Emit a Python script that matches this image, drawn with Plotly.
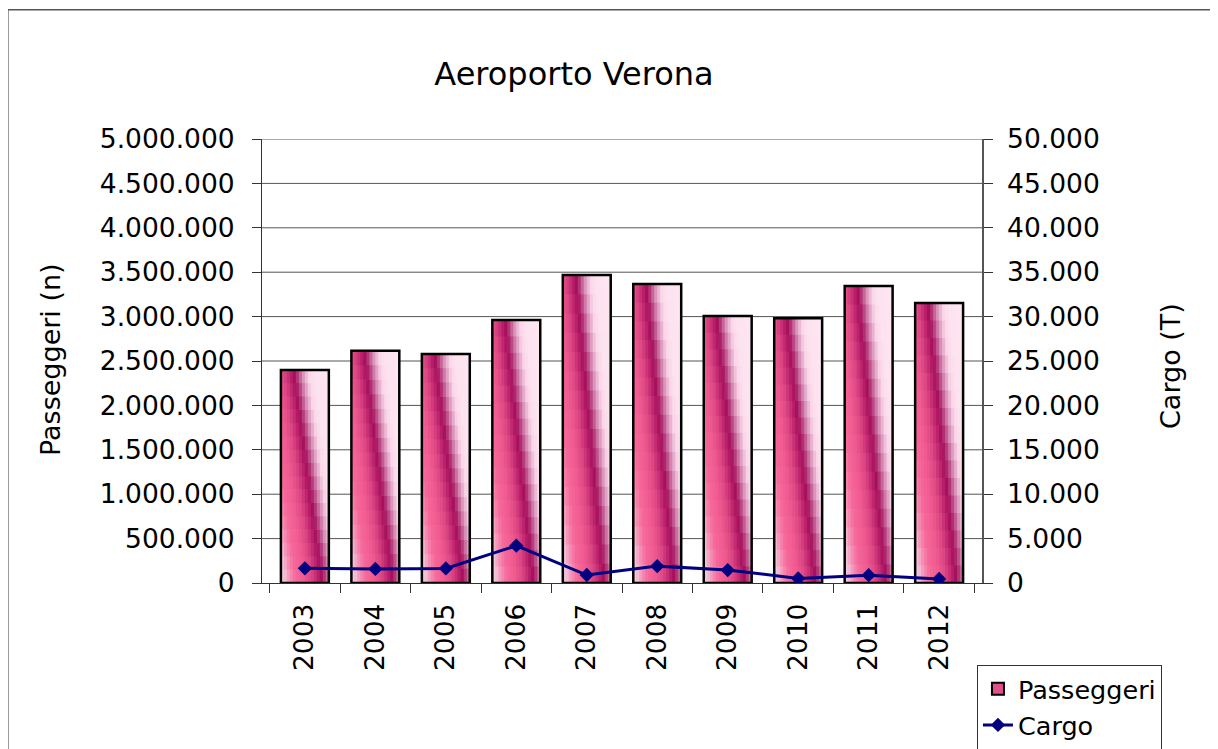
import plotly.graph_objects as go

# ---- data ----
years = ["2003", "2004", "2005", "2006", "2007", "2008", "2009", "2010", "2011", "2012"]
passeggeri = [2400000, 2615000, 2580000, 2962000, 3468000, 3367000, 3007000, 2981000, 3345000, 3153000]
cargo = [1650, 1580, 1640, 4200, 900, 1900, 1460, 520, 880, 450]

left_ticks = list(range(0, 5000001, 500000))
FONT = "DejaVu Sans, Verdana, sans-serif"
BAR_WIDTH = 0.68
N_STRIPS = 16   # horizontal subdivisions of the gradient fill
N_BANDS = 16    # vertical subdivisions of the gradient fill
SLANT = 0.6

# colour profile of the diagonal gradient (position, colour)
grad_stops = [(-0.60, "#eccfe2"), (-0.50, "#f2c0d8"), (-0.40, "#f590b4"), (-0.28, "#f6689a"),
              (-0.10, "#f05a90"), (0.05, "#dc4682"), (0.17, "#c02670"), (0.26, "#a60f5c"),
              (0.33, "#b43878"), (0.44, "#d890b8"), (0.56, "#fad6e8"), (0.68, "#fde2ef"),
              (1.00, "#fee6f2")]


def hex2rgb(h):
    h = h.lstrip("#")
    return tuple(int(h[i:i + 2], 16) for i in (0, 2, 4))


def grad_color(s):
    if s <= grad_stops[0][0]:
        return grad_stops[0][1]
    for (s0, c0), (s1, c1) in zip(grad_stops, grad_stops[1:]):
        if s <= s1:
            t = (s - s0) / (s1 - s0)
            a, b = hex2rgb(c0), hex2rgb(c1)
            r = [round(a[i] + (b[i] - a[i]) * t) for i in range(3)]
            return f"rgb({r[0]},{r[1]},{r[2]})"
    return grad_stops[-1][1]


fig = go.Figure()

# gradient fill of the passenger bars, drawn as slices of each bar
strip_w = BAR_WIDTH / N_STRIPS
for j in range(N_BANDS):
    band_base = [p * j / N_BANDS for p in passeggeri]
    band_h = [p / N_BANDS * (1.04 if j < N_BANDS - 1 else 1.0) for p in passeggeri]
    v_from_top = 1 - (j + 0.5) / N_BANDS
    for k in range(N_STRIPS):
        u = (k + 0.5) / N_STRIPS
        col = grad_color(u - SLANT * v_from_top)
        fig.add_trace(go.Bar(
            x=years, y=band_h, base=band_base,
            offset=-BAR_WIDTH / 2 + k * strip_w,
            width=strip_w * (1.3 if k < N_STRIPS - 1 else 1.0),
            marker=dict(color=col, line=dict(width=0)),
            showlegend=False, hoverinfo="skip",
        ))

# bar outlines
fig.add_trace(go.Bar(
    x=years, y=passeggeri, name="Passeggeri", showlegend=False,
    width=BAR_WIDTH,
    marker=dict(color="rgba(0,0,0,0)", line=dict(color="black", width=2.5)),
))
# legend entry for the bars
fig.add_trace(go.Bar(
    x=[None], y=[None], name="Passeggeri",
    marker=dict(color="#e0508a", line=dict(color="black", width=2)),
))
fig.add_trace(go.Scatter(
    x=years, y=cargo, name="Cargo", yaxis="y2",
    mode="lines+markers",
    line=dict(color="#000080", width=3),
    marker=dict(symbol="diamond", size=11, color="#000080"),
))

shapes = [
    dict(type="line", xref="paper", yref="y", x0=0, x1=1, y0=v, y1=v,
         line=dict(color="#555555", width=1), layer="below")
    for v in left_ticks if v > 0
]
# outer chart border
shapes.append(dict(type="rect", xref="paper", yref="paper", x0=-0.353, x1=2.0, y0=-1.0, y1=1.291,
                   line=dict(color="#555555", width=1.5), fillcolor="rgba(0,0,0,0)", layer="below"))

W, H = 1210, 741
fig.update_layout(
    width=W, height=H,
    margin=dict(l=254, r=236, t=131, b=166, autoexpand=False),
    paper_bgcolor="white", plot_bgcolor="white",
    separators=",.",
    barmode="overlay",
    font=dict(family=FONT, size=26, color="black"),
    title=dict(text="Aeroporto Verona", x=566 / W, xref="container", xanchor="center",
               y=1 - 66 / H, yref="container", yanchor="middle",
               font=dict(family=FONT, size=32, color="black")),
    xaxis=dict(type="category", showgrid=False, showline=True, linecolor="#333333", linewidth=1,
               ticks="outside", tickson="boundaries", ticklen=9, tickcolor="#333333",
               tickangle=-90, ticklabelstandoff=9, tickfont=dict(size=26.5)),
    yaxis=dict(range=[0, 5000000], tick0=0, dtick=500000, tickformat=",d", showgrid=False,
               showline=True, linecolor="#333333", linewidth=1, ticks="outside", ticklen=9,
               tickcolor="#333333", ticklabelstandoff=12, zeroline=False, tickfont=dict(size=26.5)),
    yaxis2=dict(range=[0, 50000], tick0=0, dtick=5000, tickformat=",d", overlaying="y", side="right",
                showgrid=False, showline=True, linecolor="#555555", linewidth=1.5, ticks="outside",
                ticklen=9, tickcolor="#333333", ticklabelstandoff=9, zeroline=False,
                tickfont=dict(size=26.5)),
    legend=dict(x=0.993, y=-0.184, xanchor="left", yanchor="top", bgcolor="white",
                bordercolor="#333333", borderwidth=1, font=dict(family=FONT, size=25.5),
                tracegroupgap=0, traceorder="normal"),
    shapes=shapes,
    annotations=[
        dict(text="Passeggeri (n)", xref="paper", yref="paper", x=(50 - 262) / 720, y=(583 - 360) / 444,
             textangle=-90, showarrow=False, xanchor="center", yanchor="middle",
             font=dict(family=FONT, size=27, color="black")),
        dict(text="Cargo (T)", xref="paper", yref="paper", x=(1170 - 262) / 720, y=(583 - 366) / 444,
             textangle=-90, showarrow=False, xanchor="center", yanchor="middle",
             font=dict(family=FONT, size=27, color="black")),
    ],
)

fig.write_html("out.html")
